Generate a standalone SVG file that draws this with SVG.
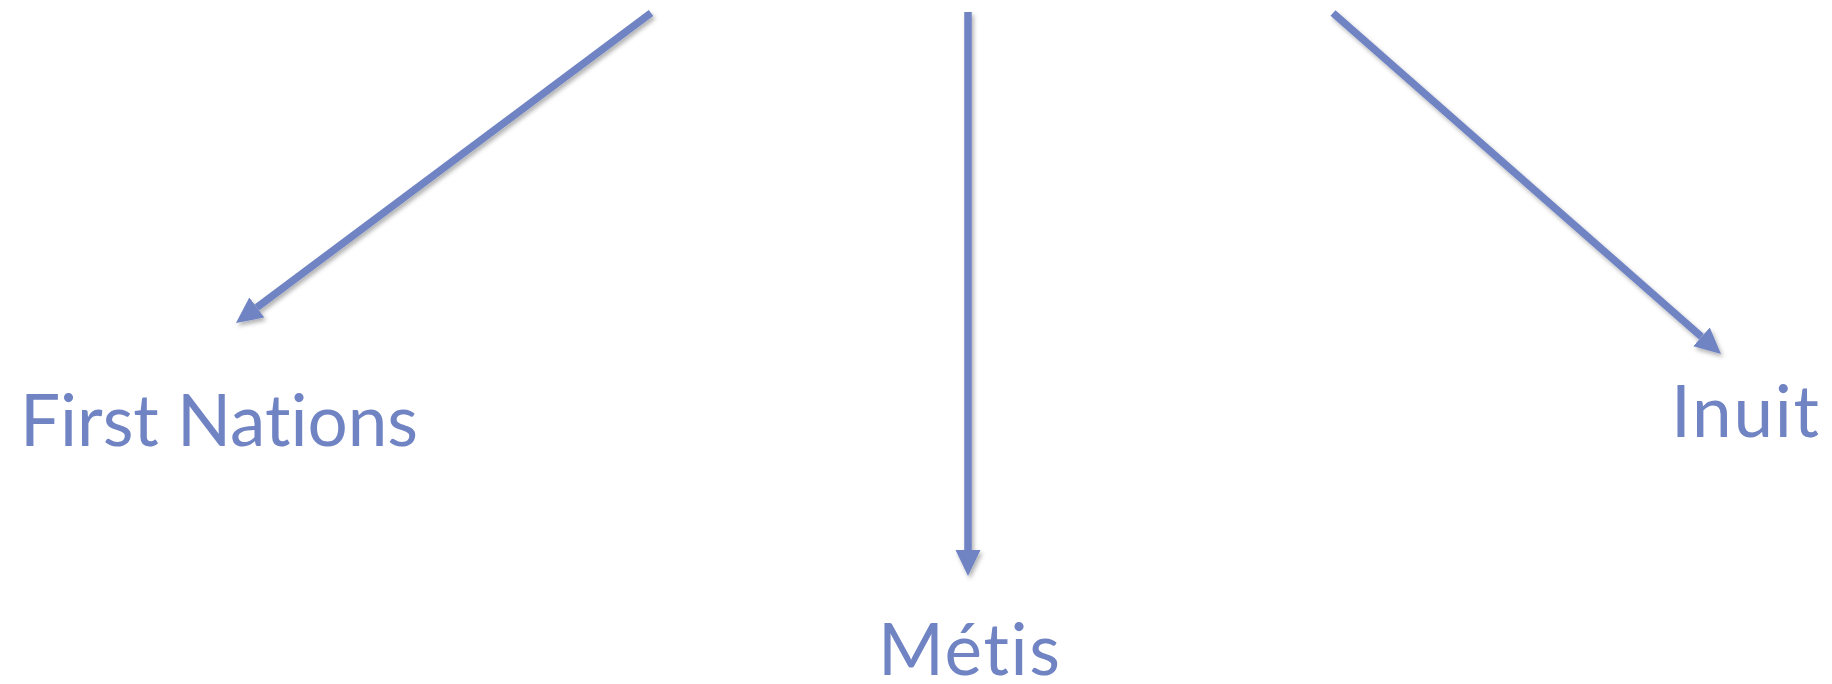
<svg xmlns="http://www.w3.org/2000/svg" width="1832" height="684" viewBox="0 0 1832 684">
  <style>
    .lbl { font-family: Lato, "Open Sans", "Liberation Sans", sans-serif; font-size: 71px; fill: #7083C3; font-variant-ligatures: none; font-feature-settings: "liga" 0, "clig" 0; }
    .conn { stroke: #7083C3; stroke-width: 7.5; fill: none; marker-end: url(#head); }
  </style>
  <defs>
    <marker id="head" markerUnits="userSpaceOnUse" viewBox="0 -15 30 30" markerWidth="30" markerHeight="30" refX="0" refY="0" orient="auto">
      <path d="M0,-12.5 L26,0 L0,12.5 Z" fill="#7083C3"/>
    </marker>
    <filter id="shadow" filterUnits="userSpaceOnUse" x="0" y="0" width="1832" height="684">
      <feDropShadow dx="2" dy="3" stdDeviation="2" flood-color="#000" flood-opacity="0.3"/>
    </filter>
  </defs>
  <rect width="1832" height="684" fill="#ffffff"/>
  <g id="connectors" filter="url(#shadow)">
    <line class="conn" x1="651" y1="13" x2="256.8" y2="307.5"/>
    <line class="conn" x1="968" y1="12" x2="968" y2="550"/>
    <line class="conn" x1="1333" y1="13" x2="1701.5" y2="336.8"/>
  </g>
  <g id="first-nations">
    <text class="lbl" x="20" y="446" textLength="398" lengthAdjust="spacing">First Nations</text>
  </g>
  <g id="metis">
    <text class="lbl" x="878" y="675" textLength="182" lengthAdjust="spacing">Métis</text>
  </g>
  <g id="inuit">
    <text class="lbl" x="1671" y="437" textLength="148" lengthAdjust="spacing">Inuit</text>
  </g>
</svg>
